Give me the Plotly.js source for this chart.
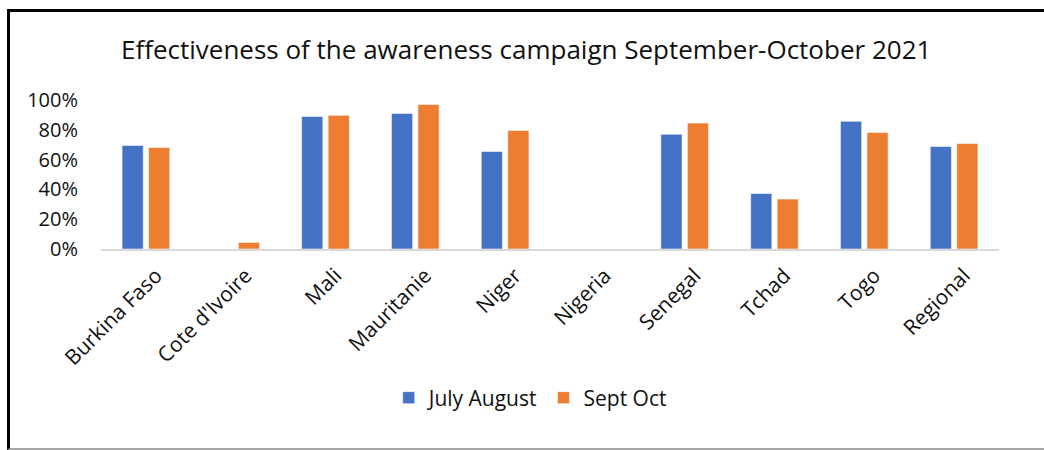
<!DOCTYPE html>
<html>
<head>
<meta charset="utf-8">
<script src="https://cdn.plot.ly/plotly-3.0.1.min.js"></script>
<style>
  html, body { margin: 0; padding: 0; background: #fff; }
  #wrap { position: relative; width: 1044px; height: 450px; overflow: hidden; }
  #chart { position: absolute; left: 0; top: 0; width: 1044px; height: 450px; }
  #frame { position: absolute; left: 7px; top: 9px; width: 1100px; height: 436px;
           border-left: 3px solid #000; border-top: 3px solid #000;
           border-bottom: 2px solid #a6a6a6; pointer-events: none; }
</style>
</head>
<body>
<div id="wrap">
  <div id="chart"></div>
  <div id="frame"></div>
</div>
<script>
const categories = ["Burkina Faso", "Cote d'Ivoire", "Mali", "Mauritanie", "Niger", "Nigeria", "Senegal", "Tchad", "Togo", "Regional"];
const julyAugust = [0.695, 0, 0.89, 0.91, 0.655, 0, 0.77, 0.372, 0.857, 0.688];
const septOct    = [0.681, 0.044, 0.897, 0.97, 0.796, 0, 0.845, 0.335, 0.782, 0.708];
const seriesNames = ["July August", "Sept Oct"];
const titleText = "Effectiveness of the awareness campaign September-October 2021";

const FONT = "Open Sans, Noto Sans, sans-serif";
const TXT = "#111111";

const traces = [
  { type: "bar", name: seriesNames[0], x: categories, y: julyAugust,
    marker: { color: "#4472C4", line: { color: "rgba(255,255,255,0.55)", width: 1 } } },
  { type: "bar", name: seriesNames[1], x: categories, y: septOct,
    marker: { color: "#ED7D31", line: { color: "rgba(255,255,255,0.55)", width: 1 } } }
];

const layout = {
  width: 1044, height: 450,
  margin: { l: 101, r: 45, t: 100, b: 201 },
  paper_bgcolor: "rgba(0,0,0,0)", plot_bgcolor: "rgba(0,0,0,0)",
  font: { family: FONT, color: TXT },
  title: { text: titleText, font: { family: FONT, size: 26, color: TXT },
           x: 0.504, xanchor: "center", y: 0.889, yanchor: "middle" },
  barmode: "group", bargap: 0.41, bargroupgap: 0.2,
  showlegend: true,
  legend: { orientation: "h", x: 0.478, xanchor: "center", y: -1.0, yanchor: "middle",
            font: { family: FONT, size: 21, color: TXT }, itemwidth: 30, traceorder: "normal" },
  xaxis: { type: "category", showline: true, linecolor: "#d9d9d9", linewidth: 2,
           ticks: "", tickangle: -45, tickfont: { family: FONT, size: 21, color: TXT },
           ticklabelshift: 10, ticklabelstandoff: 4,
           showgrid: false, zeroline: false, fixedrange: true },
  yaxis: { range: [0, 1.0], tickvals: [0, 0.2, 0.4, 0.6, 0.8, 1.0], tickformat: ".0%",
           showgrid: false, zeroline: false, showline: false, ticks: "",
           tickfont: { family: FONT, size: 20, color: TXT }, ticklabelstandoff: 22, fixedrange: true },
  hovermode: false
};

Plotly.newPlot("chart", traces, layout, { displayModeBar: false, staticPlot: true });
</script>
</body>
</html>
